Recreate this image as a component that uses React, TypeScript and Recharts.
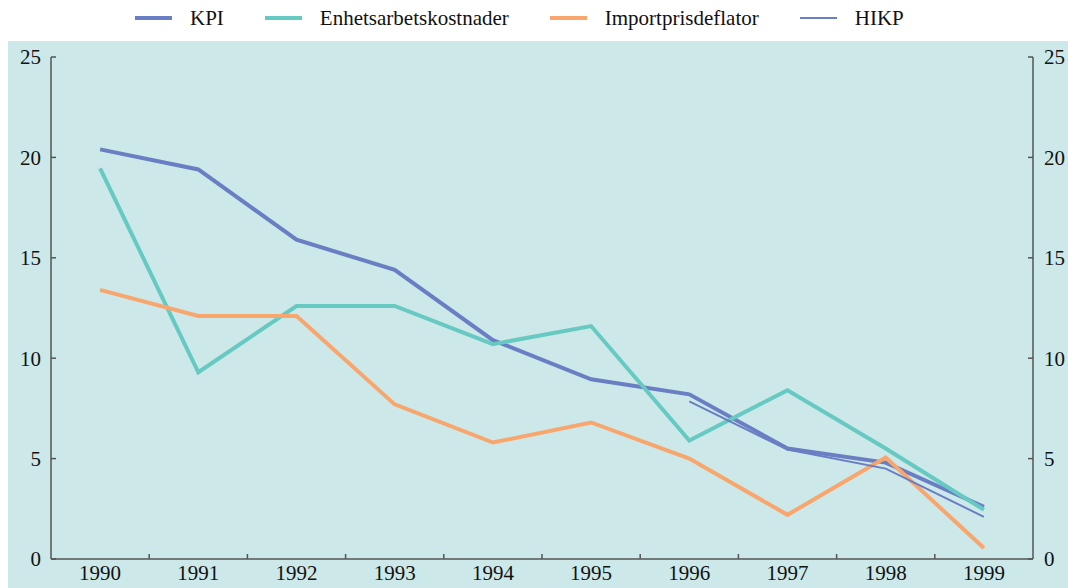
import { CartesianGrid, Line, LineChart, XAxis, YAxis } from "recharts";

const years = [1990, 1991, 1992, 1993, 1994, 1995, 1996, 1997, 1998, 1999];
const kpi = [20.4, 19.4, 15.9, 14.4, 10.9, 8.95, 8.2, 5.5, 4.8, 2.6];
const enhet = [19.45, 9.3, 12.6, 12.6, 10.7, 11.6, 5.9, 8.4, 5.5, 2.45];
const importDefl = [13.4, 12.1, 12.1, 7.7, 5.8, 6.8, 5.0, 2.2, 5.05, 0.55];
const hikp = [null, null, null, null, null, null, 7.85, 5.45, 4.5, 2.1];
const yTicks = [0, 5, 10, 15, 20, 25];
const xTicks = years.flatMap((y) => (y < 1999 ? [y, y + 0.5] : [y]));

const series = [
  { key: "kpi", name: "KPI", color: "#6a7ec4", width: 4, axis: "left" },
  { key: "enhet", name: "Enhetsarbetskostnader", color: "#66c9c2", width: 4, axis: "left" },
  { key: "imp", name: "Importprisdeflator", color: "#f9a66e", width: 4, axis: "left" },
  { key: "hikp", name: "HIKP", color: "#6a7ec4", width: 2, axis: "right" },
];

const data = years.map((year, i) => ({
  year,
  kpi: kpi[i],
  enhet: enhet[i],
  imp: importDefl[i],
  hikp: hikp[i],
}));

const FONT = "'Liberation Serif', 'Times New Roman', serif";
const AXIS = "#555";

function XTick({ x, y, payload }: any) {
  const v = payload.value as number;
  if (Number.isInteger(v)) {
    return (
      <text x={x} y={y + 21} textAnchor="middle" fontFamily={FONT} fontSize={21} fill="#111">
        {v}
      </text>
    );
  }
  return <line x1={x} x2={x} y1={y} y2={y - 5} stroke={AXIS} strokeWidth={1.5} />;
}

export default function App() {
  return (
    <div style={{ position: "absolute", left: 0, top: 0, width: 1068, height: 588, fontFamily: FONT }}>
      <div style={{ position: "absolute", left: 8, top: 41, width: 1060, height: 547, background: "#cce8e8" }} />
      <div
        style={{
          position: "absolute",
          left: 135,
          top: 4,
          height: 28,
          display: "flex",
          alignItems: "center",
          fontSize: 21,
          color: "#111",
        }}
      >
        {series.map((s) => (
          <div key={s.key} style={{ display: "flex", alignItems: "center", marginRight: 41 }}>
            <span style={{ display: "inline-block", width: 37, height: s.width, background: s.color, marginRight: 18 }} />
            <span>{s.name}</span>
          </div>
        ))}
      </div>
      <div style={{ position: "absolute", left: 0, top: 0 }}>
        <LineChart width={1068} height={588} data={data} margin={{ top: 57, right: 0, bottom: 0, left: 0 }}>
          <CartesianGrid stroke="none" />
          <XAxis
            dataKey="year"
            type="number"
            domain={[1989.5, 1999.5]}
            ticks={xTicks}
            interval={0}
            height={29}
            tickSize={0}
            tickMargin={0}
            tickLine={false}
            tick={<XTick />}
            axisLine={{ stroke: AXIS, strokeWidth: 1.5 }}
            tickFormatter={(v: number) => (Number.isInteger(v) ? String(v) : "")}
          />
          <YAxis
            yAxisId="left"
            orientation="left"
            width={51}
            domain={[0, 25]}
            ticks={yTicks}
            interval={0}
            tickSize={-5}
            tickMargin={15}
            tick={{ fontFamily: FONT, fontSize: 21, fill: "#111" }}
            tickLine={{ stroke: AXIS, strokeWidth: 1.5 }}
            axisLine={{ stroke: AXIS, strokeWidth: 1.5 }}
          />
          <YAxis
            yAxisId="right"
            orientation="right"
            width={35}
            domain={[0, 25]}
            ticks={yTicks}
            interval={0}
            tickSize={-5}
            tickMargin={16}
            tick={{ fontFamily: FONT, fontSize: 21, fill: "#111", textAnchor: "start" }}
            tickLine={{ stroke: AXIS, strokeWidth: 1.5 }}
            axisLine={{ stroke: AXIS, strokeWidth: 1.5 }}
          />
          {series.map((s) => (
            <Line
              key={s.key}
              yAxisId={s.axis}
              dataKey={s.key}
              name={s.name}
              type="linear"
              stroke={s.color}
              strokeWidth={s.width}
              dot={false}
              activeDot={false}
              connectNulls={false}
              isAnimationActive={false}
            />
          ))}
        </LineChart>
      </div>
    </div>
  );
}
